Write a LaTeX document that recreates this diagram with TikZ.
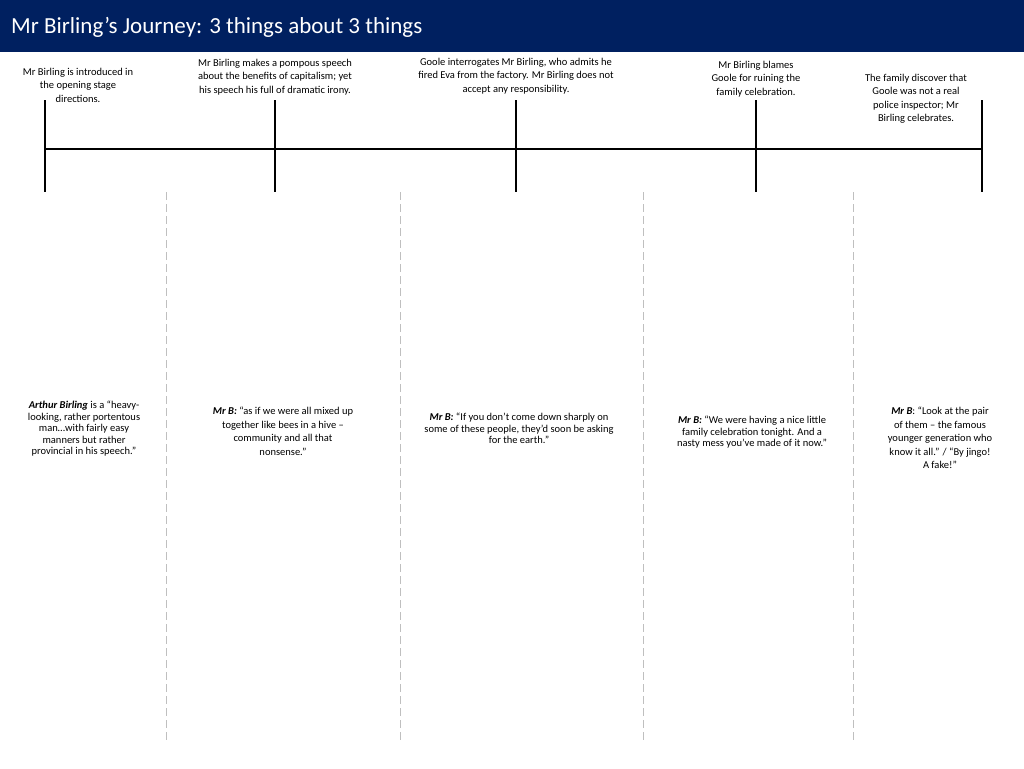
\documentclass[tikz,border=0pt]{standalone}
\usepackage{fontspec}
\setmainfont{Carlito}
\begin{document}
\begin{tikzpicture}[x=1pt,y=-1pt,
 lbl/.style={align=center,font=\fontsize{10.5}{13.5}\selectfont,inner sep=0pt,anchor=north},
 qt/.style={align=center,font=\fontsize{10.5}{11.5}\selectfont,inner sep=0pt,anchor=north},
 tick/.style={line width=1.5pt},
 sep/.style={draw=black!25,dashed,dash pattern=on 8pt off 4pt,line width=0.8pt}]
\useasboundingbox (0,0) rectangle (1024,768);
\fill[fill={rgb,255:red,0;green,32;blue,96}] (0,0) rectangle (1024,52);
\node[anchor=west,text=white,font=\fontsize{23}{27}\selectfont,inner sep=0pt] (title) at (11,27) {Mr Birling’s Journey: 3 things about 3 things};
\coordinate (l) at (45,149); \coordinate (r) at (982,149);
\draw[tick] (l) -- (r);
\foreach \x/\n in {45/a,275/b,516/c,756/d,982/e}{
 \coordinate (\n t) at (\x,100); \coordinate (\n b) at (\x,192);
 \draw[tick] (\n t) -- (\n b);}
\foreach \x/\n in {166/p,400/q,643/s,853/u}{
 \coordinate (\n t) at (\x,192); \coordinate (\n b) at (\x,740);
 \draw[sep] (\n t) -- (\n b);}
\node[lbl] (t1) at (78,68) {Mr Birling is introduced in\\the opening stage\\directions.};
\node[lbl] (t2) at (275,59) {Mr Birling makes a pompous speech\\about the benefits of capitalism; yet\\his speech his full of dramatic irony.};
\node[lbl] (t3) at (516,58) {Goole interrogates Mr Birling, who admits he\\fired Eva from the factory. Mr Birling does not\\accept any responsibility.};
\node[lbl] (t4) at (756,61) {Mr Birling blames\\Goole for ruining the\\family celebration.};
\node[lbl] (t5) at (916,74) {The family discover that\\Goole was not a real\\police inspector; Mr\\Birling celebrates.};
\node[qt] (q1) at (84,401) {\textbf{\textit{Arthur Birling}} is a “heavy-\\looking, rather portentous\\man…with fairly easy\\manners but rather\\provincial in his speech.”};
\node[lbl] (q2) at (283,407) {\textbf{\textit{Mr B:}} “as if we were all mixed up\\together like bees in a hive –\\community and all that\\nonsense.”};
\node[qt] (q3) at (519,413) {\textbf{\textit{Mr B:}} “If you don’t come down sharply on\\some of these people, they’d soon be asking\\for the earth.”};
\node[qt] (q4) at (752,416) {\textbf{\textit{Mr B:}} “We were having a nice little\\family celebration tonight. And a\\nasty mess you’ve made of it now.”};
\node[lbl] (q5) at (940,407) {\textbf{\textit{Mr B}}: “Look at the pair\\of them – the famous\\younger generation who\\know it all.” / “By jingo!\\A fake!”};
\end{tikzpicture}
\end{document}
